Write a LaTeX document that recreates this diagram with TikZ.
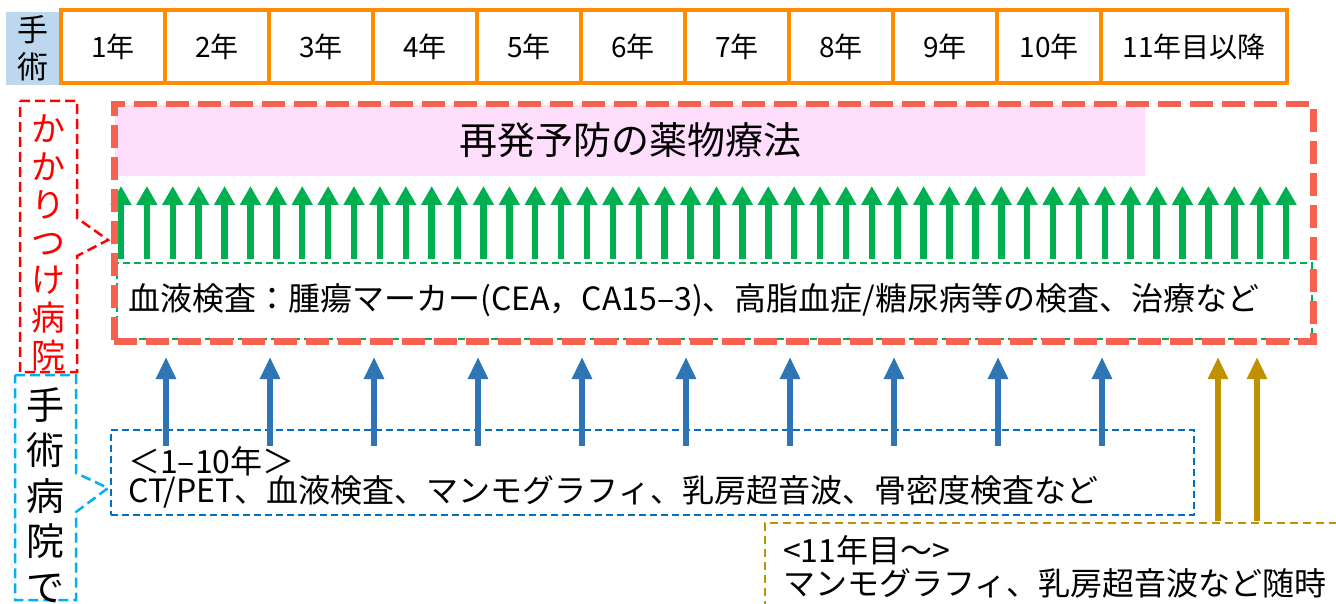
\documentclass[tikz,border=0pt]{standalone}
\usepackage{fontspec}
\setmainfont{Noto Sans CJK JP}
\usetikzlibrary{arrows.meta}
\definecolor{yrorange}{HTML}{FF8C00}
\definecolor{hdrblue}{HTML}{BDD7EE}
\definecolor{bigred}{HTML}{F66150}
\definecolor{pinkfill}{HTML}{FFDEFD}
\definecolor{arrgreen}{HTML}{00B050}
\definecolor{callblue}{HTML}{00B0F0}
\definecolor{boxblue}{HTML}{0070C0}
\definecolor{arrblue}{HTML}{2E75B6}
\definecolor{gold}{HTML}{BF9000}
\setlength{\lineskiplimit}{-20pt}
\tikzset{
  yearbox/.style={draw=yrorange, line width=3.5pt, inner sep=0, minimum height=73pt, font=\fontsize{28}{32}\selectfont},
  bigredbox/.style={draw=bigred, line width=6.5pt, dash pattern=on 23pt off 9pt},
  greenbox/.style={draw=arrgreen, line width=2pt, dash pattern=on 7pt off 4pt},
  redcall/.style={draw=red, line width=2.5pt, dash pattern=on 10pt off 5pt},
  bluecall/.style={draw=callblue, line width=2.5pt, dash pattern=on 10pt off 5pt},
  bluebox/.style={draw=boxblue, line width=2pt, dash pattern=on 7pt off 4pt},
  goldbox/.style={draw=gold, line width=2pt, dash pattern=on 8pt off 5pt},
  garrow/.style={draw=arrgreen, line width=6.5pt, -{Triangle[length=19pt,width=20pt]}},
  barrow/.style={draw=arrblue, line width=6pt, -{Triangle[length=22pt,width=19pt]}},
  gdarrow/.style={draw=gold, line width=6pt, -{Triangle[length=22pt,width=19pt]}},
  bodytext/.style={inner sep=0, anchor=west, align=left, font=\fontsize{32}{29.5}\selectfont}
}
\begin{document}
\begin{tikzpicture}[x=1pt,y=-1pt]
\clip (0,0) rectangle (1336,604);
\fill[white] (0,0) rectangle (1336,604);

% header
\node[fill=hdrblue, minimum width=53pt, minimum height=73pt, inner sep=0, align=center,
      font=\fontsize{31}{37}\selectfont] (surg) at (32.5,48.5) {手\\術};
\foreach \a/\b/\t [count=\i] in {61/165/1年,165/269/2年,269/373/3年,373/477/4年,477/581/5年,
  581/685/6年,685/789/7年,789/893/8年,893/997/9年,997/1101/10年,1101/1287/11年目以降}
  \node[yearbox, minimum width={(\b-\a)*1pt}] (yr\i) at ({(\a+\b)/2},46.5) {\t};

% pink band
\node[fill=pinkfill, minimum width=1030pt, minimum height=71pt, inner sep=0,
      font=\fontsize{38}{40}\selectfont] (pink) at (630,140.5) {再発予防の薬物療法};

% green arrows
\foreach \i in {0,...,45} {
  \pgfmathsetmacro\gx{121+\i*25.89}
  \coordinate (gb\i) at (\gx,259);
  \coordinate (gt\i) at (\gx,186);
  \draw[garrow] (gb\i) -- (gt\i);
}

% green dashed box
\node[greenbox, minimum width=1195pt, minimum height=76pt, inner sep=0, anchor=north west] (gbox) at (116,262) {};
\node[bodytext] (blood) at (128,300) {血液検査：腫瘍マーカー(CEA，CA15–3)、高脂血症/糖尿病等の検査、治療など};

% big red dashed box
\node[bigredbox, minimum width=1199pt, minimum height=237pt, inner sep=0, anchor=north west] (redbox) at (111,101) {};

% left callouts
\draw[redcall] (20,101) -- (77,101) -- (77,218) -- (108,240) -- (77,256) -- (77,372) -- (20,372) -- cycle;
\node[text=red, font=\fontsize{34}{37.8}\selectfont, align=center, inner sep=0] (kakari) at (48.5,243) {か\\か\\り\\つ\\け\\病\\院};

\draw[bluecall] (15,375) -- (76,375) -- (76,473) -- (108,488) -- (76,512) -- (76,600) -- (15,600) -- cycle;
\node[font=\fontsize{38}{45.5}\selectfont, align=center, inner sep=0] (shujutsu) at (46,495) {手\\術\\病\\院\\で};

% blue box
\node[bluebox, minimum width=1083pt, minimum height=85pt, inner sep=0, anchor=north west] (bbox) at (110,429) {};
\node[bodytext] (btext) at (128,477.5) {＜1–10年＞\\CT/PET、血液検査、マンモグラフィ、乳房超音波、骨密度検査など};

% blue arrows
\foreach \i in {0,...,9} {
  \pgfmathsetmacro\bx{166+\i*104}
  \coordinate (bb\i) at (\bx,446);
  \coordinate (bt\i) at (\bx,357);
  \draw[barrow] (bb\i) -- (bt\i);
}

% gold box
\node[goldbox, minimum width=600pt, minimum height=100pt, inner sep=0, anchor=north west] (gdbox) at (764,522) {};
\node[bodytext, font=\fontsize{32}{33}\selectfont] (gtext) at (783,566.5) {<11年目～>\\マンモグラフィ、乳房超音波など随時};

% gold arrows
\coordinate (ga1) at (1218,521); \coordinate (gat1) at (1218,357);
\coordinate (ga2) at (1257,521); \coordinate (gat2) at (1257,357);
\draw[gdarrow] (ga1) -- (gat1);
\draw[gdarrow] (ga2) -- (gat2);
\end{tikzpicture}
\end{document}
